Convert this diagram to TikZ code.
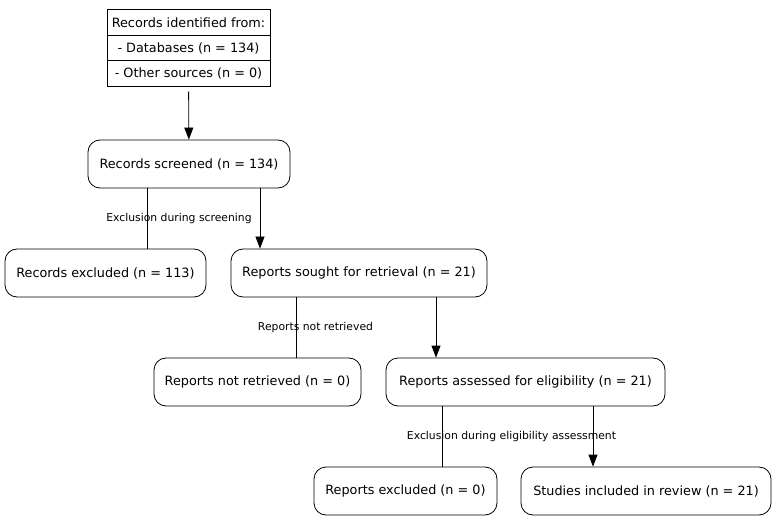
\documentclass[tikz,border=0pt]{standalone}
\usepackage{fontspec}
\setmainfont{DejaVu Sans}
\usetikzlibrary{arrows.meta}
\begin{document}
\begin{tikzpicture}[x=1pt,y=-1pt]
	\tikzset{box/.style={draw=black, rounded corners=12pt, line width=0.8pt, minimum height=48pt, inner sep=0pt, font=\fontsize{12.8}{15}\selectfont},
		src/.style={draw=black, line width=0.8pt, minimum width=163pt, minimum height=25.5pt, inner sep=0pt, font=\fontsize{12.8}{15}\selectfont},
		edgelabel/.style={inner sep=0pt, font=\fontsize{10.8}{13}\selectfont},
		flow/.style={line width=0.8pt, -{Triangle[length=12pt,width=9pt]}},
		cut/.style={line width=0.8pt}}
	\useasboundingbox (0,0) rectangle (776,521);

	\node[src] at (188.5, 22.5) (src1) {Records identified from:};
	\node[src] at (188.5, 48) (src2) {- Databases (n = 134)};
	\node[src] at (188.5, 73.5) (src3) {- Other sources (n = 0)};

	\node[box, minimum width=202pt] at (189, 164) (screened) {Records screened (n = 134)};
	\node[box, minimum width=201pt] at (105.5, 273) (recexcl) {Records excluded (n = 113)};
	\node[box, minimum width=256pt] at (359, 273) (sought) {Reports sought for retrieval (n = 21)};
	\node[box, minimum width=207pt] at (257.5, 382) (notret) {Reports not retrieved (n = 0)};
	\node[box, minimum width=279pt] at (525.5, 382) (assessed) {Reports assessed for eligibility (n = 21)};
	\node[box, minimum width=183pt] at (405.5, 491) (repexcl) {Reports excluded (n = 0)};
	\node[box, minimum width=250pt] at (646, 491) (included) {Studies included in review (n = 21)};

	% Main flow
	\draw[flow, shorten <=5pt] (src3) -- (screened);
	\draw[flow] ([xshift=71pt]screened.south) -- ([xshift=-99pt]sought.north);
	\draw[flow] ([xshift=77pt]sought.south) -- ([xshift=-89.5pt]assessed.north);
	\draw[flow] ([xshift=67.5pt]assessed.south) -- ([xshift=-53pt]included.north);

	% Exclusions
	\draw[cut] ([xshift=-42pt]screened.south) -- node[edgelabel, xshift=32pt] {Exclusion during screening} ([xshift=41.5pt]recexcl.north);
	\draw[cut] ([xshift=-63pt]sought.south) -- node[edgelabel, xshift=19.5pt] {Reports not retrieved} ([xshift=38.5pt]notret.north);
	\draw[cut] ([xshift=-83.5pt]assessed.south) -- node[edgelabel, xshift=69.5pt] {Exclusion during eligibility assessment} ([xshift=36.5pt]repexcl.north);
\end{tikzpicture}
\end{document}
